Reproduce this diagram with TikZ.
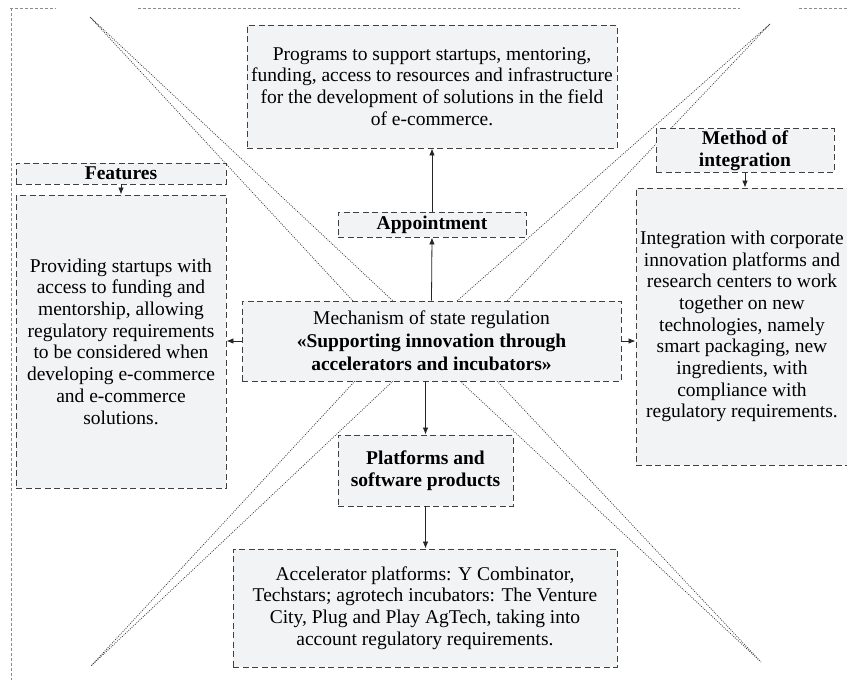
\documentclass[tikz,border=0pt]{standalone}
\usepackage{fontspec}
\setmainfont{Liberation Serif}
\usepackage{tikz}
\usetikzlibrary{arrows.meta}
\definecolor{fonblok}{RGB}{242,243,245}
\tikzset{
  blok/.style = {draw=black!75, fill=fonblok, line width=0.9pt,
    dash pattern=on 6pt off 3.5pt, align=center, inner sep=2pt,
    font=\fontsize{19.5}{21.7}\selectfont},% block, plain text
  blok_z/.style = {blok, font=\fontsize{19.5}{21.7}\selectfont\bfseries},% block, bold heading
  strl/.style = {-{Latex[length=7pt,width=5.5pt]}, line width=0.8pt, black!85},% arrow
  diag/.style = {dash pattern=on 0.9pt off 1.3pt, line width=0.8pt, black!75},% cross lines
  ramka/.style = {densely dashed, line width=0.5pt, black!45}% outer frame
}

\begin{document}
\begin{tikzpicture}[x=1pt, y=-1pt]
  \useasboundingbox (0,0) rectangle (847,680);
  % frame
  \draw[ramka] (10,8) -- (56,8);
  \draw[ramka] (138,8) -- (740,8);
  \draw[ramka] (799,8) -- (847,8);
  \draw[ramka] (11,8) -- (11,680);
  % cross
  \draw[diag] (353,301) -- (90,17) -- (393,301);
  \draw[diag] (457,301) -- (770,24) -- (507,301);
  \draw[diag] (355,381) -- (91,666) -- (393,381);
  \draw[diag] (460,381) -- (761,662) -- (497,381);
  % blocks
  \node [blok, minimum width=370pt, minimum height=123pt] (prog) at (432,86.5)
    {Programs to support startups, mentoring,\\ funding, access to resources and infrastructure\\
     for the development of solutions in the field\\ of e-commerce.};
  \node [blok_z, minimum width=188pt, minimum height=25pt] (appt) at (432,224.5) {Appointment};
  \node [blok, minimum width=379pt, minimum height=80pt,
    font=\fontsize{19.5}{23}\selectfont] (mech) at (431.5,341)
    {Mechanism of state regulation\\ \textbf{«Supporting innovation through}\\
     \textbf{accelerators and incubators»}};
  \node [blok_z, minimum width=175pt, minimum height=71pt] (plat) at (425.5,470.5)
    {Platforms and\\ software products};
  \node [blok, minimum width=384pt, minimum height=118pt] (accel) at (425,608)
    {Accelerator platforms: Y Combinator,\\ Techstars; agrotech incubators: The Venture\\
     City, Plug and Play AgTech, taking into\\ account regulatory requirements.};
  \node [blok_z, minimum width=210pt, minimum height=21pt] (feat) at (121,173.5) {Features};
  \node [blok, minimum width=210pt, minimum height=293pt] (provd) at (121,341.5)
    {Providing startups with\\ access to funding and\\ mentorship, allowing\\
     regulatory requirements\\ to be considered when\\ developing e-commerce\\
     and e-commerce\\ solutions.};
  \node [blok_z, minimum width=178pt, minimum height=43pt] (meth) at (745,150.5)
    {Method of\\ integration};
  \node [blok, minimum width=212pt, minimum height=277pt] (integr) at (742,326.5)
    {Integration with corporate\\ innovation platforms and\\ research centers to work\\
     together on new\\ technologies, namely\\ smart packaging, new\\
     ingredients, with\\ compliance with\\ regulatory requirements.};
  % arrows
  \draw[strl] (mech.north) -- (appt.south);
  \draw[strl] (appt.north) -- (prog.south);
  \draw[strl] (plat.north |- mech.south) -- (plat.north);
  \draw[strl] (plat.south) -- (accel.north -| plat.south);
  \draw[strl] (feat.south) -- (provd.north);
  \draw[strl] (meth.south) -- (meth.south |- integr.north);
  \draw[strl] (mech.west) -- (mech.west -| provd.east);
  \draw[strl] (mech.east) -- (mech.east -| integr.west);
\end{tikzpicture}
\end{document}
